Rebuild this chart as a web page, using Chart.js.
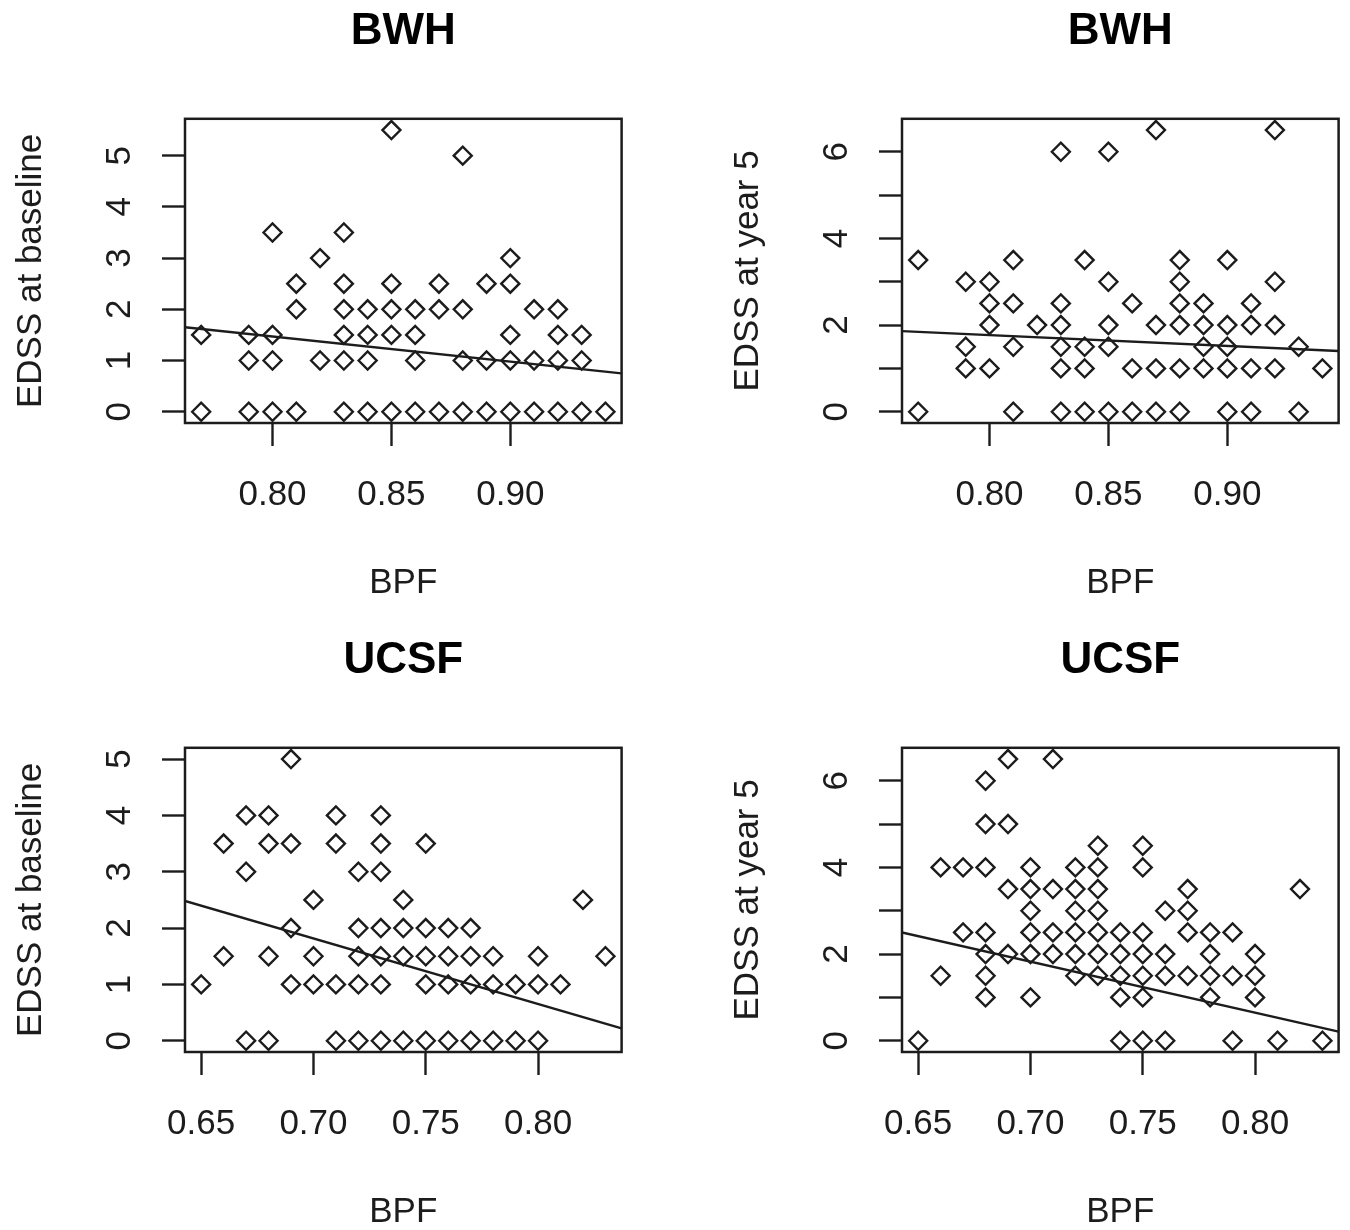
<!DOCTYPE html>
<html>
<head>
<meta charset="utf-8">
<title>EDSS vs BPF</title>
<script src="https://cdn.jsdelivr.net/npm/chart.js@4"></script>
<style>
  body { margin: 0; background: #fff; }
  #wrap { position: relative; width: 1350px; height: 1230px; overflow: hidden; }
  canvas { position: absolute; }
</style>
</head>
<body>
<div id="wrap">
  <canvas id="bwh-baseline" width="633" height="601" style="left:0;top:0"></canvas>
  <canvas id="bwh-year5" width="633" height="601" style="left:717px;top:0"></canvas>
  <canvas id="ucsf-baseline" width="633" height="601" style="left:0;top:629px"></canvas>
  <canvas id="ucsf-year5" width="633" height="601" style="left:717px;top:629px"></canvas>
</div>
<script>
// BWH, EDSS at baseline
var bwhBpfBaseline = [
  0.77, 0.77,
  0.79, 0.79, 0.79,
  0.80, 0.80, 0.80, 0.80,
  0.81, 0.81, 0.81,
  0.82, 0.82,
  0.83, 0.83, 0.83, 0.83, 0.83, 0.83,
  0.84, 0.84, 0.84, 0.84,
  0.85, 0.85, 0.85, 0.85, 0.85,
  0.86, 0.86, 0.86, 0.86,
  0.87, 0.87, 0.87,
  0.88, 0.88, 0.88, 0.88,
  0.89, 0.89, 0.89,
  0.90, 0.90, 0.90, 0.90, 0.90,
  0.91, 0.91, 0.91,
  0.92, 0.92, 0.92, 0.92,
  0.93, 0.93, 0.93,
  0.94
];
var bwhEdssBaseline = [
  1.5, 0,
  1.5, 1, 0,
  3.5, 1.5, 1, 0,
  2.5, 2, 0,
  3, 1,
  3.5, 2.5, 2, 1.5, 1, 0,
  2, 1.5, 1, 0,
  5.5, 2.5, 2, 1.5, 0,
  2, 1.5, 1, 0,
  2.5, 2, 0,
  5, 2, 1, 0,
  2.5, 1, 0,
  3, 2.5, 1.5, 1, 0,
  2, 1, 0,
  2, 1.5, 1, 0,
  1.5, 1, 0,
  0
];

// BWH, EDSS at year 5
var bwhBpfYear5 = [
  0.77, 0.77,
  0.79, 0.79, 0.79,
  0.80, 0.80, 0.80, 0.80,
  0.81, 0.81, 0.81, 0.81,
  0.82,
  0.83, 0.83, 0.83, 0.83, 0.83, 0.83,
  0.84, 0.84, 0.84, 0.84,
  0.85, 0.85, 0.85, 0.85, 0.85,
  0.86, 0.86, 0.86,
  0.87, 0.87, 0.87, 0.87,
  0.88, 0.88, 0.88, 0.88, 0.88, 0.88,
  0.89, 0.89, 0.89, 0.89,
  0.90, 0.90, 0.90, 0.90, 0.90,
  0.91, 0.91, 0.91, 0.91,
  0.92, 0.92, 0.92, 0.92,
  0.93, 0.93,
  0.94
];
var bwhEdssYear5 = [
  3.5, 0,
  3, 1.5, 1,
  3, 2.5, 2, 1,
  3.5, 2.5, 1.5, 0,
  2,
  6, 2.5, 2, 1.5, 1, 0,
  3.5, 1.5, 1, 0,
  6, 3, 2, 1.5, 0,
  2.5, 1, 0,
  6.5, 2, 1, 0,
  3.5, 3, 2.5, 2, 1, 0,
  2.5, 2, 1.5, 1,
  3.5, 2, 1.5, 1, 0,
  2.5, 2, 1, 0,
  6.5, 3, 2, 1,
  1.5, 0,
  1
];

// UCSF, EDSS at baseline
var ucsfBpfBaseline = [
  0.65,
  0.66, 0.66,
  0.67, 0.67, 0.67,
  0.68, 0.68, 0.68, 0.68,
  0.69, 0.69, 0.69, 0.69,
  0.70, 0.70, 0.70,
  0.71, 0.71, 0.71, 0.71,
  0.72, 0.72, 0.72, 0.72, 0.72,
  0.73, 0.73, 0.73, 0.73, 0.73, 0.73, 0.73,
  0.74, 0.74, 0.74, 0.74,
  0.75, 0.75, 0.75, 0.75, 0.75,
  0.76, 0.76, 0.76, 0.76,
  0.77, 0.77, 0.77, 0.77,
  0.78, 0.78, 0.78,
  0.79, 0.79,
  0.80, 0.80, 0.80,
  0.81,
  0.82,
  0.83
];
var ucsfEdssBaseline = [
  1,
  3.5, 1.5,
  4, 3, 0,
  4, 3.5, 1.5, 0,
  5, 3.5, 2, 1,
  2.5, 1.5, 1,
  4, 3.5, 1, 0,
  3, 2, 1.5, 1, 0,
  4, 3.5, 3, 2, 1.5, 1, 0,
  2.5, 2, 1.5, 0,
  3.5, 2, 1.5, 1, 0,
  2, 1.5, 1, 0,
  2, 1.5, 1, 0,
  1.5, 1, 0,
  1, 0,
  1.5, 1, 0,
  1,
  2.5,
  1.5
];

// UCSF, EDSS at year 5
var ucsfBpfYear5 = [
  0.65,
  0.66, 0.66,
  0.67, 0.67,
  0.68, 0.68, 0.68, 0.68, 0.68, 0.68, 0.68,
  0.69, 0.69, 0.69, 0.69,
  0.70, 0.70, 0.70, 0.70, 0.70, 0.70,
  0.71, 0.71, 0.71, 0.71,
  0.72, 0.72, 0.72, 0.72, 0.72, 0.72,
  0.73, 0.73, 0.73, 0.73, 0.73, 0.73, 0.73,
  0.74, 0.74, 0.74, 0.74, 0.74,
  0.75, 0.75, 0.75, 0.75, 0.75, 0.75, 0.75,
  0.76, 0.76, 0.76, 0.76,
  0.77, 0.77, 0.77, 0.77,
  0.78, 0.78, 0.78, 0.78,
  0.79, 0.79, 0.79,
  0.80, 0.80, 0.80,
  0.81,
  0.82,
  0.83
];
var ucsfEdssYear5 = [
  0,
  4, 1.5,
  4, 2.5,
  6, 5, 4, 2.5, 2, 1.5, 1,
  6.5, 5, 3.5, 2,
  4, 3.5, 3, 2.5, 2, 1,
  6.5, 3.5, 2.5, 2,
  4, 3.5, 3, 2.5, 2, 1.5,
  4.5, 4, 3.5, 3, 2.5, 2, 1.5,
  2.5, 2, 1.5, 1, 0,
  4.5, 4, 2.5, 2, 1.5, 1, 0,
  3, 2, 1.5, 0,
  3.5, 3, 2.5, 1.5,
  2.5, 2, 1.5, 1,
  2.5, 1.5, 0,
  2, 1.5, 1,
  0,
  3.5,
  0
];

// fitted line: EDSS at the left and right edge of each plot
var bwhBaselineFit = [1.65, 0.75];
var bwhYear5Fit = [1.86, 1.40];
var ucsfBaselineFit = [2.48, 0.22];
var ucsfYear5Fit = [2.50, 0.21];

// axis ticks
var bwhTicks = [0.80, 0.85, 0.90];
var bwhTickLabels = ['0.80', '0.85', '0.90'];
var ucsfTicks = [0.65, 0.70, 0.75, 0.80];
var ucsfTickLabels = ['0.65', '0.70', '0.75', '0.80'];
var baselineTicks = [0, 1, 2, 3, 4, 5];
var baselineTickLabels = ['0', '1', '2', '3', '4', '5'];
var year5Ticks = [0, 1, 2, 3, 4, 5, 6];
var year5TickLabels = ['0', '', '2', '', '4', '', '6'];

Chart.defaults.font.family = "'Liberation Sans', Arial, sans-serif";
var ink = '#1c1c1c';

// R style axis limits: data range plus 4% each side
function rRange(values) {
  var lo = Math.min.apply(null, values);
  var hi = Math.max.apply(null, values);
  var pad = (hi - lo) * 0.04;
  return [lo - pad, hi + pad];
}

// box round the plot region
var boxPlugin = {
  id: 'box',
  afterDatasetsDraw: function (chart) {
    var a = chart.chartArea;
    var ctx = chart.ctx;
    ctx.save();
    ctx.strokeStyle = ink;
    ctx.lineWidth = 2.5;
    ctx.strokeRect(a.left, a.top, a.right - a.left, a.bottom - a.top);
    ctx.restore();
  }
};

function makePanel(id, title, yTitle, bpf, edss, fit, xTicks, xLabels, yTicks, yLabels) {
  var xr = rRange(bpf);
  var yr = rRange(edss);
  var points = bpf.map(function (b, i) { return { x: b, y: edss[i] }; });

  return new Chart(document.getElementById(id), {
    type: 'scatter',
    data: {
      datasets: [{
        data: points,
        pointStyle: 'rectRot',
        pointRadius: 9,
        borderWidth: 2.4,
        borderColor: ink,
        backgroundColor: 'rgba(0, 0, 0, 0)'
      }, {
        type: 'line',
        data: [{ x: xr[0], y: fit[0] }, { x: xr[1], y: fit[1] }],
        borderColor: ink,
        borderWidth: 2.4,
        pointRadius: 0
      }]
    },
    plugins: [boxPlugin],
    options: {
      responsive: false,
      animation: false,
      events: [],
      layout: { padding: { right: 8 } },
      plugins: {
        legend: { display: false },
        tooltip: { enabled: false },
        title: {
          display: true,
          fullSize: false,
          text: title,
          color: '#000',
          font: { size: 44, weight: 'bold', lineHeight: 1.2 },
          padding: { top: 5, bottom: 61 }
        }
      },
      scales: {
        x: {
          type: 'linear',
          min: xr[0],
          max: xr[1],
          afterBuildTicks: function (s) { s.ticks = xTicks.map(function (v) { return { value: v }; }); },
          afterFit: function (s) { s.height = 178; },
          border: { display: false },
          grid: { drawOnChartArea: false, drawTicks: true, tickLength: 23, tickWidth: 2.4, tickColor: ink },
          ticks: {
            autoSkip: false,
            maxRotation: 0,
            padding: 28,
            color: ink,
            font: { size: 35 },
            callback: function (v, i) { return xLabels[i]; }
          },
          title: { display: true, text: 'BPF', color: ink, font: { size: 35, lineHeight: 1 }, padding: 0 }
        },
        y: {
          type: 'linear',
          min: yr[0],
          max: yr[1],
          afterBuildTicks: function (s) { s.ticks = yTicks.map(function (v) { return { value: v }; }); },
          afterFit: function (s) { s.width = 185; },
          border: { display: false },
          grid: { drawOnChartArea: false, drawTicks: true, tickLength: 23, tickWidth: 2.4, tickColor: ink },
          ticks: {
            autoSkip: false,
            minRotation: 90,
            maxRotation: 90,
            crossAlign: 'center',
            padding: 32,
            color: ink,
            font: { size: 35 },
            callback: function (v, i) { return yLabels[i]; }
          },
          title: { display: true, text: yTitle, color: ink, font: { size: 35, lineHeight: 1 }, padding: { top: 14, bottom: 0 } }
        }
      }
    }
  });
}

makePanel('bwh-baseline', 'BWH', 'EDSS at baseline', bwhBpfBaseline, bwhEdssBaseline, bwhBaselineFit,
  bwhTicks, bwhTickLabels, baselineTicks, baselineTickLabels);
makePanel('bwh-year5', 'BWH', 'EDSS at year 5', bwhBpfYear5, bwhEdssYear5, bwhYear5Fit,
  bwhTicks, bwhTickLabels, year5Ticks, year5TickLabels);
makePanel('ucsf-baseline', 'UCSF', 'EDSS at baseline', ucsfBpfBaseline, ucsfEdssBaseline, ucsfBaselineFit,
  ucsfTicks, ucsfTickLabels, baselineTicks, baselineTickLabels);
makePanel('ucsf-year5', 'UCSF', 'EDSS at year 5', ucsfBpfYear5, ucsfEdssYear5, ucsfYear5Fit,
  ucsfTicks, ucsfTickLabels, year5Ticks, year5TickLabels);
</script>
</body>
</html>
